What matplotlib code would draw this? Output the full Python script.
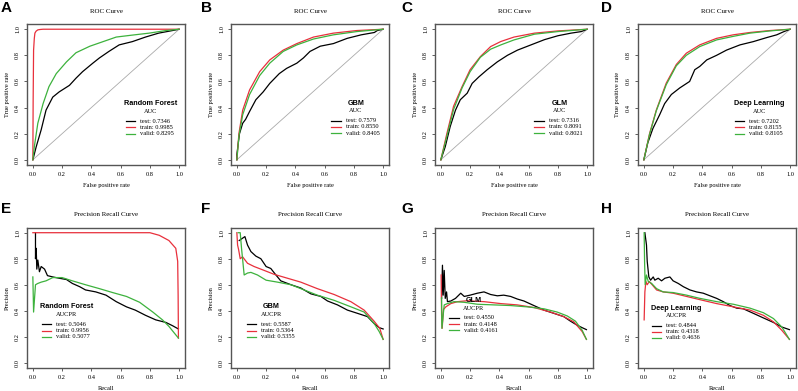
import matplotlib
matplotlib.use("Agg")
import matplotlib.pyplot as plt
import numpy as np

# ---- ROC data (fpr, tpr) ----
rf_roc_test = ([0, .023, .057, .09, .136, .18, .25, .295, .34, .41, .455, .52, .59, .68, .77, .86, .955, 1],
               [0, .10, .23, .38, .48, .52, .57, .625, .675, .74, .78, .83, .88, .905, .94, .97, .99, 1])
rf_roc_train = ([0, .002, .005, .01, .014, .022, .034, .05, .07, 1],
                [0, .45, .84, .93, .97, .985, .995, .998, 1, 1])
rf_roc_valid = ([0, .01, .034, .07, .11, .16, .23, .295, .39, .48, .57, .68, .795, .91, 1],
                [0, .10, .28, .43, .56, .66, .75, .82, .87, .905, .94, .955, .97, .99, 1])

gbm_roc_test = ([0, 0, .018, .04, .06, .087, .13, .18, .225, .29, .34, .41, .455, .50, .57, .66, .754, .85, .94, .96, 1],
                [0, .04, .20, .28, .31, .37, .46, .52, .585, .66, .70, .74, .78, .83, .87, .89, .93, .957, .975, .99, 1])
gbm_roc_train = ([0, .014, .04, .087, .156, .225, .317, .41, .524, .66, .82, 1],
                 [0, .20, .38, .535, .675, .765, .84, .89, .94, .97, .99, 1])
gbm_roc_valid = ([0, .014, .04, .087, .156, .225, .317, .41, .524, .66, .82, 1],
                 [0, .18, .345, .50, .645, .74, .83, .88, .925, .957, .982, 1])

glm_roc_test = ([0, .03, .064, .1, .133, .18, .214, .26, .317, .386, .455, .524, .616, .708, .8, .89, .96, 1],
                [0, .10, .255, .38, .46, .51, .585, .635, .69, .75, .80, .84, .88, .92, .95, .97, .982, 1])
glm_roc_train = ([0, .041, .087, .145, .2, .27, .34, .41, .5, .64, .8, 1],
                 [0, .20, .41, .56, .69, .79, .867, .906, .94, .97, .987, 1])
glm_roc_valid = ([0, .041, .087, .145, .2, .27, .34, .41, .5, .64, .8, 1],
                 [0, .18, .385, .55, .675, .785, .847, .88, .918, .962, .982, 1])

dl_roc_test = ([0, .027, .062, .108, .142, .188, .245, .313, .348, .382, .43, .497, .565, .657, .748, .84, .908, .954, 1],
               [0, .13, .24, .345, .43, .50, .55, .60, .69, .715, .765, .80, .84, .88, .905, .936, .957, .98, 1])
dl_roc_train = ([0, .039, .085, .153, .222, .29, .382, .497, .61, .725, .863, 1],
                [0, .20, .38, .587, .73, .816, .88, .93, .957, .975, .99, 1])
dl_roc_valid = ([0, .039, .085, .153, .222, .29, .382, .497, .61, .725, .863, 1],
                [0, .195, .375, .575, .72, .80, .867, .918, .945, .97, .987, 1])

# ---- Precision-recall data (recall, precision) ----
rf_pr_test = ([.018, .018, .023, .027, .034, .045, .057, .08, .10, .136, .18, .23, .27, .32, .36, .43, .5, .57, .64, .70, .77, .84, .91, .955, .995],
              [1.0, .80, .88, .72, .79, .70, .74, .72, .67, .66, .65, .64, .61, .585, .56, .545, .52, .47, .43, .405, .365, .33, .31, .285, .26])
rf_pr_train = ([0, .2, .5, .8, .864, .93, .977, .99, .993, .995],
               [1, 1, 1, 1, .98, .94, .88, .78, .52, .19])
rf_pr_valid = ([0, .005, .018, .034, .057, .09, .136, .2, .27, .36, .455, .545, .64, .73, .82, .886, .93, .966, .995],
               [.66, .39, .60, .61, .62, .63, .655, .655, .63, .60, .57, .54, .51, .465, .39, .33, .28, .23, .19])

gbm_pr_test = ([.016, .055, .073, .096, .13, .164, .2, .232, .267, .30, .37, .437, .506, .574, .62, .688, .756, .825, .893, .94, .973, 1],
               [.94, .97, .905, .855, .82, .80, .74, .725, .675, .63, .60, .575, .53, .51, .475, .445, .405, .38, .355, .30, .27, .26])
gbm_pr_train = ([0, .005, .012, .023, .039, .073, .118, .187, .255, .346, .437, .55, .665, .779, .87, .938, .977, 1],
                [1, .905, .87, .80, .815, .765, .74, .71, .68, .65, .62, .57, .525, .47, .405, .32, .265, .18])
gbm_pr_valid = ([.009, .023, .032, .05, .073, .096, .141, .2, .278, .37, .46, .55, .665, .78, .87, .94, .973, 1],
                [1, 1, .88, .675, .69, .695, .675, .635, .62, .60, .56, .52, .48, .43, .39, .30, .24, .18])

glm_pr_test = ([.005, .011, .016, .023, .03, .039, .045, .068, .1, .136, .16, .2, .25, .295, .34, .386, .43, .477, .523, .568, .636, .705, .773, .84, .886, .93, .966, .995],
               [.495, .75, .52, .71, .495, .545, .47, .475, .495, .535, .51, .52, .535, .545, .525, .515, .52, .51, .49, .475, .44, .405, .38, .355, .32, .29, .27, .255])
glm_pr_train = ([.002, .005, .009, .018, .034, .068, .114, .18, .295, .41, .523, .636, .75, .84, .909, .966, .995],
                [.675, .37, .265, .41, .43, .455, .47, .477, .47, .455, .445, .425, .39, .355, .315, .24, .18])
glm_pr_valid = ([.005, .007, .023, .045, .09, .16, .25, .364, .477, .59, .705, .795, .864, .92, .966, .995],
                [.50, .265, .445, .455, .47, .465, .45, .445, .44, .43, .415, .39, .36, .32, .25, .18])

dl_pr_test = ([.007, .018, .023, .034, .046, .064, .075, .098, .121, .144, .178, .2, .235, .27, .315, .36, .406, .452, .498, .543, .589, .635, .68, .749, .817, .886, .943, .995],
              [1.0, .905, .78, .66, .635, .66, .635, .65, .63, .65, .66, .63, .61, .585, .56, .545, .535, .515, .495, .47, .44, .42, .415, .38, .345, .31, .275, .255])
dl_pr_train = ([.002, .007, .014, .023, .037, .053, .087, .132, .2, .292, .384, .498, .612, .726, .817, .886, .943, .995],
               [.33, .545, .625, .60, .625, .605, .56, .545, .535, .51, .485, .455, .43, .405, .365, .315, .25, .18])
dl_pr_valid = ([.002, .005, .009, .018, .03, .053, .087, .132, .2, .292, .384, .498, .612, .726, .817, .886, .943, .995],
               [1.0, .775, .60, .675, .625, .61, .57, .545, .54, .52, .495, .47, .45, .42, .385, .34, .275, .18])

models = ["Random Forest", "GBM", "GLM", "Deep Learning"]
roc_data = [(rf_roc_test, rf_roc_train, rf_roc_valid), (gbm_roc_test, gbm_roc_train, gbm_roc_valid),
            (glm_roc_test, glm_roc_train, glm_roc_valid), (dl_roc_test, dl_roc_train, dl_roc_valid)]
pr_data = [(rf_pr_test, rf_pr_train, rf_pr_valid), (gbm_pr_test, gbm_pr_train, gbm_pr_valid),
           (glm_pr_test, glm_pr_train, glm_pr_valid), (dl_pr_test, dl_pr_train, dl_pr_valid)]
roc_auc = [(0.7346, 0.9985, 0.8295), (0.7579, 0.8550, 0.8405), (0.7316, 0.8091, 0.8021), (0.7202, 0.8155, 0.8105)]
pr_auc = [(0.5046, 0.9956, 0.5077), (0.5587, 0.5364, 0.5355), (0.4550, 0.4148, 0.4161), (0.4844, 0.4318, 0.4636)]
set_names = ["test", "train", "valid"]
colors = ["black", "#E8303C", "#3DB23D"]
letters_top = ["A", "B", "C", "D"]
letters_bot = ["E", "F", "G", "H"]

# legend anchors (line start x, title y) per panel
roc_leg = [(0.635, 0.43), (0.644, 0.434), (0.64, 0.434), (0.62, 0.43)]
pr_leg = [(0.06, 0.43), (0.068, 0.43), (0.057, 0.48), (0.053, 0.42)]

FONT = "Liberation Serif"
FS = 4.6

fig = plt.figure(figsize=(7.98, 3.91), dpi=100)
W, H = 798.0, 391.0
col_left = [27, 231, 435, 638]
ax_w = 158


def style_axes(ax, title, xlabel, ylabel):
    ax.set_xlim(-0.04, 1.04)
    ax.set_ylim(-0.04, 1.04)
    ticks = [0, 0.2, 0.4, 0.6, 0.8, 1.0]
    ax.set_xticks(ticks)
    ax.set_yticks(ticks)
    ax.set_xticklabels([f"{t:.1f}" for t in ticks], fontsize=FS, family=FONT)
    ax.set_yticklabels([f"{t:.1f}" for t in ticks], fontsize=FS, family=FONT,
                       rotation=90, va="center")
    ax.tick_params(length=2.5, width=0.6, pad=2.5, color="#444444")
    for s in ax.spines.values():
        s.set_color("#555555")
        s.set_linewidth(1.0)
    ax.set_title(title, fontsize=FS + 0.4, family=FONT, pad=8)
    ax.set_xlabel(xlabel, fontsize=FS, family=FONT, labelpad=4)
    ax.set_ylabel(ylabel, fontsize=FS, family=FONT, labelpad=4)


def add_legend(ax, name, head, aucs, x0, y0):
    ax.text(x0 + 0.17, y0, name, fontsize=5.2, family="Liberation Sans",
            weight="bold", ha="center", va="center")
    ax.text(x0 + 0.17, y0 - 0.06, head, fontsize=FS, family=FONT,
            ha="center", va="center")
    for i, (lab, val, c) in enumerate(zip(set_names, aucs, colors)):
        yy = y0 - 0.135 - 0.047 * i
        ax.plot([x0, x0 + 0.065], [yy, yy], color=c, lw=0.9)
        ax.text(x0 + 0.10, yy, f"{lab}: {val:.4f}", fontsize=FS, family=FONT,
                va="center", ha="left")


for j in range(4):
    # ROC row
    ax = fig.add_axes([col_left[j] / W, 1 - 165 / H, ax_w / W, 141 / H])
    ax.plot([0, 1], [0, 1], color="#AAAAAA", lw=0.6)
    for (xs, ys), c in zip(roc_data[j], colors):
        ax.plot(xs, ys, color=c, lw=0.9)
    style_axes(ax, "ROC Curve", "False positive rate", "True positive rate")
    add_legend(ax, models[j], "AUC", roc_auc[j], *roc_leg[j])
    fig.text((j * 200 + 1) / W, 1 - 8 / H, letters_top[j], fontsize=11,
             family="Liberation Sans", weight="bold", va="center", ha="left")

    # PR row
    ax = fig.add_axes([col_left[j] / W, 1 - 368 / H, ax_w / W, 140.5 / H])
    for (xs, ys), c in zip(pr_data[j], colors):
        ax.plot(xs, ys, color=c, lw=0.9)
    style_axes(ax, "Precision Recall Curve", "Recall", "Precision")
    add_legend(ax, models[j], "AUCPR", pr_auc[j], *pr_leg[j])
    fig.text((j * 200 + 1) / W, 1 - 209 / H, letters_bot[j], fontsize=11,
             family="Liberation Sans", weight="bold", va="center", ha="left")

fig.savefig("out.png", dpi=100)
